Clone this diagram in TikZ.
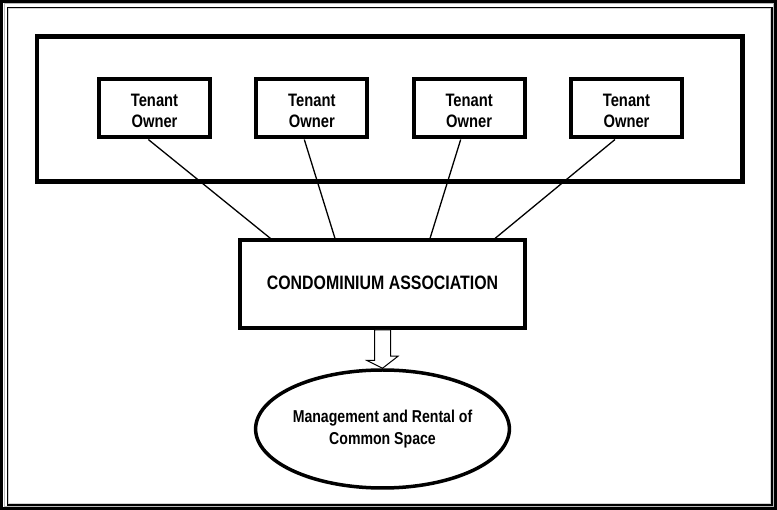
\documentclass[tikz,border=0pt]{standalone}
\usepackage{fontspec}
\newfontfamily\lab{Liberation Sans}[FakeStretch=0.82]
\usetikzlibrary{shapes.geometric}
\begin{document}
\begin{tikzpicture}[x=1pt,y=-1pt,
  tbox/.style={draw,line width=4pt,minimum width=111pt,minimum height=58pt,inner sep=0pt},
  ttext/.style={inner sep=0pt,align=center,font=\lab\bfseries\fontsize{18}{21}\selectfont},
  abox/.style={draw,line width=4pt,minimum width=284.7pt,minimum height=87.5pt,inner sep=0pt,align=center,
    font=\lab\bfseries\fontsize{19.4}{21}\selectfont},
  gbox/.style={draw,line width=4.5pt,minimum width=705.5pt,minimum height=145.2pt,inner sep=0pt},
  mell/.style={draw,ellipse,line width=3.5pt,minimum width=251pt,minimum height=118pt,inner sep=0pt,align=center,
    font=\lab\bfseries\fontsize{17.2}{22}\selectfont},
  conn/.style={line width=1.3pt},
  hollowarrow/.style={draw,line width=1pt,fill=white,line join=miter}]
\useasboundingbox (0,0) rectangle (777,510);
% page frame
\draw[line width=2.6pt] (1.5,1.5) rectangle (775.5,508.5);
\draw[gray!55,line width=1pt] (4,4) rectangle (773.4,506.4);
\draw[line width=1.2pt] (7.5,7.5) rectangle (772,505);
\draw[gray!35,line width=1pt] (8.8,8.8) rectangle (770.7,503.7);
% group
\node[gbox] (grp) at (389.8,108.9) {};
% tenants
\node[tbox] (t1) at (154.5,108.5) {};
\node[tbox] (t2) at (311.8,108.5) {};
\node[tbox] (t3) at (469.2,108.5) {};
\node[tbox] (t4) at (626.5,108.5) {};
\node[ttext] (t1x) at ([yshift=-2.5pt]t1.center) {Tenant\\Owner};
\node[ttext] (t2x) at ([yshift=-2.5pt]t2.center) {Tenant\\Owner};
\node[ttext] (t3x) at ([yshift=-2.5pt]t3.center) {Tenant\\Owner};
\node[ttext] (t4x) at ([yshift=-2.5pt]t4.center) {Tenant\\Owner};
% association
\node[abox] (assoc) at (382.5,284.2) {\raisebox{3pt}{CONDOMINIUM ASSOCIATION}};
% ellipse
\node[mell] (mg) at (382.5,429) {Management and Rental of\\Common Space};
% connectors
\draw[conn] ([xshift=-6.2pt]t1.south) -- ([xshift=-112pt]assoc.north);
\draw[conn] ([xshift=-7.5pt]t2.south) -- ([xshift=-47.5pt]assoc.north);
\draw[conn] ([xshift=-8.5pt]t3.south) -- ([xshift=47.5pt]assoc.north);
\draw[conn] ([xshift=-11.5pt]t4.south) -- ([xshift=112.5pt]assoc.north);
% hollow block arrow
\path[hollowarrow] ([xshift=-8pt]assoc.south) -- ++(0,30.5) -- ++(-7.5,0) -- (mg.north)
  -- ++(15.5,-12) -- ++(-7.5,0) -- ([xshift=8pt]assoc.south) -- cycle;
\end{tikzpicture}
\end{document}
